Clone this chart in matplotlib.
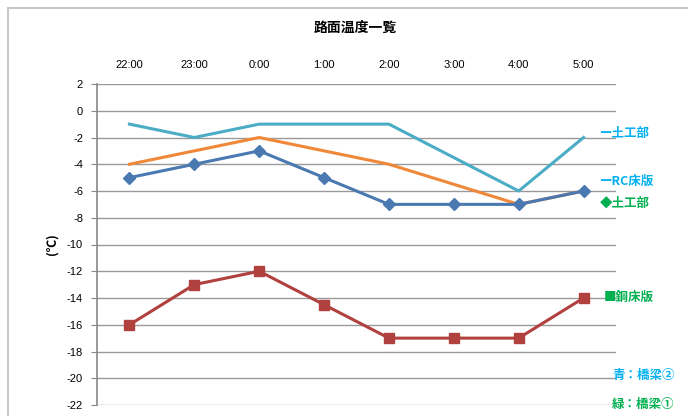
import matplotlib.pyplot as plt
from matplotlib.patches import Rectangle

plt.rcParams['font.family'] = ['Noto Sans CJK JP', 'DejaVu Sans']

hours = ['22:00', '23:00', '0:00', '1:00', '2:00', '3:00', '4:00', '5:00']
b2_earth = [-1, -2, -1, -1, -1, -3.5, -6, -2]      # 橋梁② 土工部
b2_rc = [-4, -3, -2, -3, -4, -5.5, -7, -6]          # 橋梁② RC床版
b1_earth = [-5, -4, -3, -5, -7, -7, -7, -6]         # 橋梁① 土工部
b1_steel = [-16, -13, -12, -14.5, -17, -17, -17, -14]  # 橋梁① 鋼床版
yticks = list(range(-22, 3, 2))

fig = plt.figure(figsize=(6.88, 4.16), dpi=100)
fig.patches.append(Rectangle((8 / 688, -0.1), 1.2, 1 - 8 / 416 + 0.1, transform=fig.transFigure,
                             fill=False, edgecolor='#c8c8c8', linewidth=1.5))
ax = fig.add_axes([97 / 688, 11 / 416, 519 / 688, 321 / 416])

x = range(len(hours))
ax.plot(x, b2_earth, color='#4BACC6', lw=2.2)
ax.plot(x, b2_rc, color='#F0883A', lw=2.2)
ax.plot(x, b1_earth, color='#4A78B0', lw=2.2, marker='D', ms=6)
ax.plot(x, b1_steel, color='#B0413E', lw=2.2, marker='s', ms=7)

ax.set_xlim(-0.5, 7.5)
ax.set_ylim(-22, 2)
ax.set_yticks(yticks)
ax.set_yticklabels([str(v) for v in yticks], family=['Liberation Sans'], fontsize=8)
ax.set_xticks(list(x))
ax.set_xticklabels(hours, family=['Liberation Sans'], fontsize=8)
ax.xaxis.tick_top()
ax.tick_params(axis='x', length=0, pad=10)
ax.tick_params(axis='y', length=4, color='#888888', pad=6)
ax.grid(axis='y', color='#999999', lw=1)
ax.set_axisbelow(True)
for s in ['right', 'bottom', 'top']:
    ax.spines[s].set_visible(False)
ax.spines['left'].set_color('#888888')
ax.spines['left'].set_linewidth(1.2)
ax.set_ylabel('(℃)', fontsize=9, fontweight='bold', labelpad=6)

fig.text(355 / 688, 1 - 28 / 416, '路面温度一覧', ha='center', va='center', fontsize=10, fontweight='bold')

cyan = '#00B0F0'
green = '#00B050'
labels = [
    (600, 133, 'ー土工部', cyan),
    (600, 181, 'ーRC床版', cyan),
    (600, 203, '◆土工部', green),
    (604, 297, '■鋼床版', green),
    (612, 375, '青：橋梁②', cyan),
    (612, 404, '緑：橋梁①', green),
]
for px, py, txt, c in labels:
    fig.text(px / 688, 1 - py / 416, txt, ha='left', va='center', fontsize=9,
             fontweight='bold', color=c, family=['Noto Sans CJK JP', 'DejaVu Sans'])

fig.savefig('out.png', dpi=100)
